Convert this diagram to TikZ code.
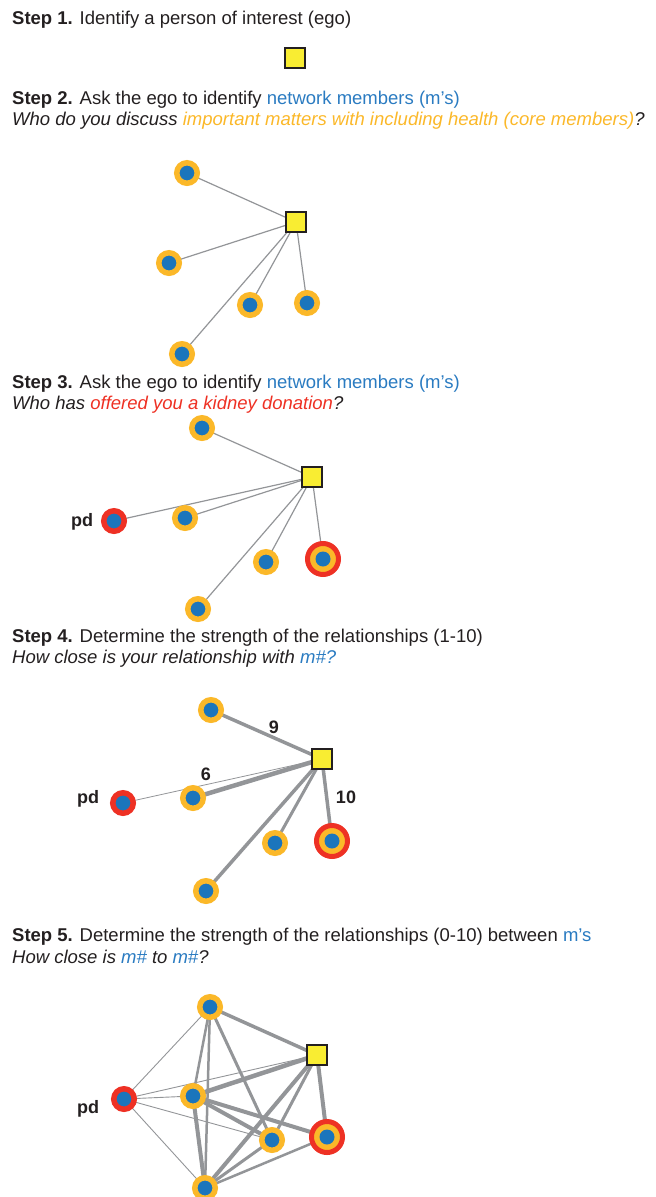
\documentclass[tikz,border=0pt]{standalone}
\usepackage{fontspec}
\setmainfont{Liberation Sans}
\usetikzlibrary{backgrounds}
\definecolor{nblue}{HTML}{1B75BC}
\definecolor{norange}{HTML}{FBB829}
\definecolor{nred}{HTML}{EE3124}
\definecolor{egoyellow}{HTML}{F9ED32}
\definecolor{edgegray}{HTML}{939598}
\definecolor{tblue}{HTML}{2A7BC1}
\definecolor{tdark}{HTML}{231F20}
\tikzset{
 txt/.style={anchor=base west, inner sep=0, font=\fontsize{18.5}{21}\selectfont, text=tdark},
 lbl/.style={anchor=base, inner sep=0, font=\fontsize{18}{21}\selectfont\bfseries, text=tdark},
 ego/.style={draw=tdark, fill=egoyellow, line width=1.5pt, minimum size=20pt, inner sep=0},
 core/.style={circle, fill=nblue, draw=norange, line width=5.5pt, minimum size=20.5pt, inner sep=0},
 pdn/.style={circle, fill=nblue, draw=nred, line width=5.5pt, minimum size=20.5pt, inner sep=0},
 ro/.style={circle, fill=norange, draw=nred, line width=5pt, minimum size=31pt, inner sep=0},
 dot/.style={circle, fill=nblue, minimum size=15pt, inner sep=0},
 ew/.style={draw=edgegray, line width=#1},
 ew/.default=1.2pt
}
\begin{document}
\begin{tikzpicture}[x=1pt,y=-1pt]
\useasboundingbox (0,0) rectangle (656,1197);
% ---------- Step 1
\node[txt] (t1) at (12,24) {\textbf{Step 1.} Identify a person of interest (ego)};
\node[ego] (ego1) at (295,58) {};
% ---------- Step 2
\node[txt] (t2a) at (12,104) {\textbf{Step 2.} Ask the ego to identify \textcolor{tblue}{network members (m’s)}};
\node[txt] (t2b) at (12,125) {\itshape Who do you discuss \textcolor{norange}{important matters with including health (core members)}?};
\node[ego] (ego2) at (296,222) {};
\node[core] (a2) at (187,173) {};
\node[core] (b2) at (169,263) {};
\node[core] (c2) at (250,305) {};
\node[core] (d2) at (307,303) {};
\node[core] (f2) at (182,354) {};
\begin{scope}[on background layer]
\foreach \n in {a2,b2,c2,d2,f2} \draw[ew] (ego2.center) -- (\n.center);
\end{scope}
% ---------- Step 3
\node[txt] (t3a) at (12,388) {\textbf{Step 3.} Ask the ego to identify \textcolor{tblue}{network members (m’s)}};
\node[txt] (t3b) at (12,409) {\itshape Who has \textcolor{nred}{offered you a kidney donation}?};
\node[ego] (ego3) at (312,477) {};
\node[core] (top3) at (202,428) {};
\node[pdn] (pd3) at (114,521) {};
\node[lbl] (pdl3) at (82,526) {pd};
\node[core] (ml3) at (185,518) {};
\node[core] (bm3) at (266,562) {};
\node[ro] (ro3) at (323,559) {};
\node[dot] (ro3i) at (ro3) {};
\node[core] (bot3) at (198,609) {};
\begin{scope}[on background layer]
\foreach \n in {top3,pd3,ml3,bm3,ro3,bot3} \draw[ew] (ego3.center) -- (\n.center);
\end{scope}
% ---------- Step 4
\node[txt] (t4a) at (12,642) {\textbf{Step 4.} Determine the strength of the relationships (1-10)};
\node[txt] (t4b) at (12,663) {\itshape How close is your relationship with \textcolor{tblue}{m\#?}};
\node[ego] (ego4) at (322,759) {};
\node[core] (top4) at (211,710) {};
\node[pdn] (pd4) at (123,803) {};
\node[lbl] (pdl4) at (88,803) {pd};
\node[core] (ml4) at (193,798) {};
\node[core] (bm4) at (275,843) {};
\node[ro] (ro4) at (332,841) {};
\node[dot] (ro4i) at (ro4) {};
\node[core] (bot4) at (206,891) {};
\node[lbl] (n9) at (274,733) {9};
\node[lbl] (n6) at (206,780) {6};
\node[lbl] (n10) at (346,803) {10};
\begin{scope}[on background layer]
\draw[ew=3.5pt] (ego4.center) -- (top4.center);
\draw[ew=0.8pt] (ego4.center) -- (pd4.center);
\draw[ew=4.5pt] (ego4.center) -- (ml4.center);
\draw[ew=3.5pt] (ego4.center) -- (bot4.center);
\draw[ew=3pt] (ego4.center) -- (bm4.center);
\draw[ew=3.5pt] (ego4.center) -- (ro4.center);
\end{scope}
% ---------- Step 5
\node[txt] (t5a) at (12,941) {\textbf{Step 5.} Determine the strength of the relationships (0-10) between \textcolor{tblue}{m’s}};
\node[txt] (t5b) at (12,963) {\itshape How close is \textcolor{tblue}{m\#} to \textcolor{tblue}{m\#}?};
\node[ego] (ego5) at (317,1055) {};
\node[core] (top5) at (210,1007) {};
\node[pdn] (pd5) at (124,1099) {};
\node[lbl] (pdl5) at (88,1113) {pd};
\node[core] (ml5) at (193,1096) {};
\node[core] (bm5) at (272,1140) {};
\node[ro] (ro5) at (327,1137) {};
\node[dot] (ro5i) at (ro5) {};
\node[core] (bot5) at (205,1188) {};
\begin{scope}[on background layer]
\draw[ew=3.5pt] (top5.center) -- (ego5.center);
\draw[ew=0.9pt] (top5.center) -- (pd5.center);
\draw[ew=2.5pt] (top5.center) -- (ml5.center);
\draw[ew=2.5pt] (top5.center) -- (bot5.center);
\draw[ew=3pt] (top5.center) -- (bm5.center);
\draw[ew=0.9pt] (pd5.center) -- (ego5.center);
\draw[ew=0.9pt] (pd5.center) -- (ml5.center);
\draw[ew=0.9pt] (pd5.center) -- (bm5.center);
\draw[ew=0.9pt] (pd5.center) -- (bot5.center);
\draw[ew=4.5pt] (ml5.center) -- (ego5.center);
\draw[ew=4pt] (ml5.center) -- (bm5.center);
\draw[ew=4pt] (ml5.center) -- (ro5.center);
\draw[ew=4pt] (ml5.center) -- (bot5.center);
\draw[ew=4pt] (bot5.center) -- (ego5.center);
\draw[ew=3pt] (bm5.center) -- (ego5.center);
\draw[ew=4pt] (ro5.center) -- (ego5.center);
\draw[ew=3pt] (bot5.center) -- (bm5.center);
\draw[ew=2.5pt] (bot5.center) -- (ro5.center);
\end{scope}
\end{tikzpicture}
\end{document}
